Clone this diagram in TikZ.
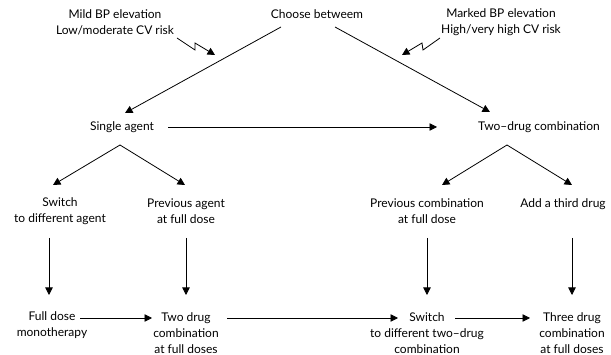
\documentclass[tikz,border=0pt]{standalone}
\usepackage{fontspec}
\setmainfont{Lato}
\usetikzlibrary{arrows.meta,calc}
\begin{document}
\begin{tikzpicture}[x=1pt,y=-1pt,
  lbl/.style={inner sep=0pt,align=center,font=\fontsize{12}{16.2}\selectfont},
  arr/.style={line width=0.8pt,-{Triangle[length=7.5pt,width=7.5pt]}}]
\useasboundingbox (0,0) rectangle (611,355);
\node[lbl] (choose) at (317,14) {Choose betweem};
\node[lbl] (mild) at (115,22.5) {Mild BP elevation\\Low/moderate CV risk};
\node[lbl] (marked) at (501,22.5) {Marked BP elevation\\High/very high CV risk};
\node[lbl] (single) at (122,127) {Single agent};
\node[lbl] (two) at (539,127) {Two--drug combination};
\node[lbl] (switch) at (60,211.5) {Switch\\to different agent};
\node[lbl] (prevagent) at (186,211.5) {Previous agent\\at full dose};
\node[lbl] (prevcomb) at (427,211.5) {Previous combination\\at full dose};
\node[lbl] (third) at (563,204) {Add a third drug};
\node[lbl] (fulldose) at (52,325) {Full dose\\monotherapy};
\node[lbl] (twodrug) at (186,333) {Two drug\\combination\\at full doses};
\node[lbl] (switchtwo) at (427,333) {Switch\\to different two--drug\\combination};
\node[lbl] (three) at (572,333) {Three drug\\combination\\at full doses};
% zigzag arrows
\draw[arr] ($(mild)+(62,15.5)$) -- ++(18,12) -- ++(0,-7) -- ++(20,12);
\draw[arr] ($(marked)+(-61,15.5)$) -- ++(-17,12) -- ++(-1,-7) -- ++(-20,12);
% main choice
\draw[arr] ($(choose)+(-36,13)$) -- ($(single)+(3,-14)$);
\draw[arr] ($(choose)+(18,13)$) -- ($(two)+(-49,-15)$);
\draw[arr] ($(single)+(46,0)$) -- ($(two)+(-102,0)$);
% branches
\draw[arr] ($(single)+(-2,18)$) -- ($(switch)+(-7,-26.5)$);
\draw[arr] ($(single)+(-2,18)$) -- ($(prevagent)+(-1,-26.5)$);
\draw[arr] ($(two)+(-32,18)$) -- ($(prevcomb)+(15,-26.5)$);
\draw[arr] ($(two)+(-32,18)$) -- ($(third)+(9,-19)$);
% verticals
\draw[arr] ($(switch)+(-11,26.5)$) -- ($(fulldose)+(-3,-30)$);
\draw[arr] ($(prevagent)+(0,26.5)$) -- ($(twodrug)+(0,-38)$);
\draw[arr] ($(prevcomb)+(0,26.5)$) -- ($(switchtwo)+(0,-38)$);
\draw[arr] ($(third)+(9,34)$) -- ($(three)+(0,-38)$);
% bottom horizontals
\draw[arr] ($(fulldose)+(28,-7)$) -- ($(twodrug)+(-34,-15)$);
\draw[arr] ($(twodrug)+(41,-15)$) -- ($(switchtwo)+(-29,-15)$);
\draw[arr] ($(switchtwo)+(28,-15)$) -- ($(three)+(-42,-15)$);
\end{tikzpicture}
\end{document}
